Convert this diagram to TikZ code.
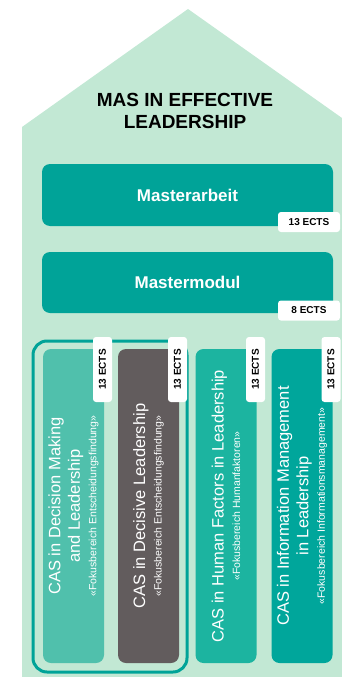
\documentclass[tikz,border=0pt]{standalone}
\usepackage{fontspec}
\setmainfont{Liberation Sans}
\definecolor{housegreen}{RGB}{194,232,212}
\definecolor{teal}{RGB}{0,163,152}
\definecolor{tealA}{RGB}{80,192,172}
\definecolor{tealB}{RGB}{98,92,93}
\definecolor{tealC}{RGB}{28,180,160}
\definecolor{tealD}{RGB}{0,166,155}
\tikzset{
  module/.style={rounded corners=8pt, text=white, inner sep=0pt,
    font=\fontsize{17}{20}\selectfont\bfseries},
  cas/.style={rotate=90, rounded corners=8pt, inner sep=0pt, text=white, align=center,
    minimum width=314pt, minimum height=61pt, font=\fontsize{16.5}{19.5}\selectfont},
  ects/.style={fill=white, rounded corners=3pt, inner sep=0pt,
    minimum width=62pt, minimum height=20pt, font=\fontsize{10}{12}\selectfont\bfseries},
  ectsup/.style={ects, rotate=90, minimum width=65pt, minimum height=19pt}
}
\newcommand{\subline}[1]{\\[-3pt]{\fontsize{10.5}{12}\selectfont #1}}
\begin{document}
\begin{tikzpicture}[x=1pt,y=-1pt]
    \useasboundingbox (0,0) rectangle (342,677);
    % Draw the house with its roof
    \fill[housegreen] (22,677) -- (22,127) -- (188,9) -- (342,118) -- (342,677) -- cycle;
    % Place the title under the roof
    \node[align=center, font=\fontsize{19}{22}\selectfont\bfseries] (title) at (185,111)
      {MAS IN EFFECTIVE\\LEADERSHIP};
    % Draw the two upper modules
    \node[module, fill=teal, minimum width=291pt, minimum height=62pt] (arbeit) at (187.5,195) {Masterarbeit};
    \node[module, fill=teal, minimum width=291pt, minimum height=61pt] (modul) at (187.5,282.5) {Mastermodul};
    \node[ects] (arbeitects) at (309,222) {13 ECTS};
    \node[ects] (modulects) at (309,310.5) {8 ECTS};
    % Draw the frame round the two decision CAS
    \draw[teal, line width=3pt, rounded corners=14pt] (33,341) rectangle (187,672);
    % Draw the four CAS pillars with their texts
    \node[cas, fill=tealA] (cas1) at (73.5,506)
      {CAS in Decision Making\\and Leadership\subline{«Fokusbereich Entscheidungsfindung»}};
    \node[cas, fill=tealB] (cas2) at (148.5,506)
      {CAS in Decisive Leadership\subline{«Fokusbereich Entscheidungsfindung»}};
    \node[cas, fill=tealC] (cas3) at (226,506)
      {CAS in Human Factors in Leadership\subline{«Fokusbereich Humanfaktoren»}};
    \node[cas, fill=tealD] (cas4) at (302,506)
      {CAS in Information Management\\in Leadership\subline{«Fokusbereich Informationsmanagement»}};
    % Put the ECTS tags on top of the pillars
    \node[ectsup] (cas1ects) at (102.5,369.5) {13 ECTS};
    \node[ectsup] (cas2ects) at (177.5,369.5) {13 ECTS};
    \node[ectsup] (cas3ects) at (255.5,369.5) {13 ECTS};
    \node[ectsup] (cas4ects) at (331,369.5) {13 ECTS};
\end{tikzpicture}
\end{document}
